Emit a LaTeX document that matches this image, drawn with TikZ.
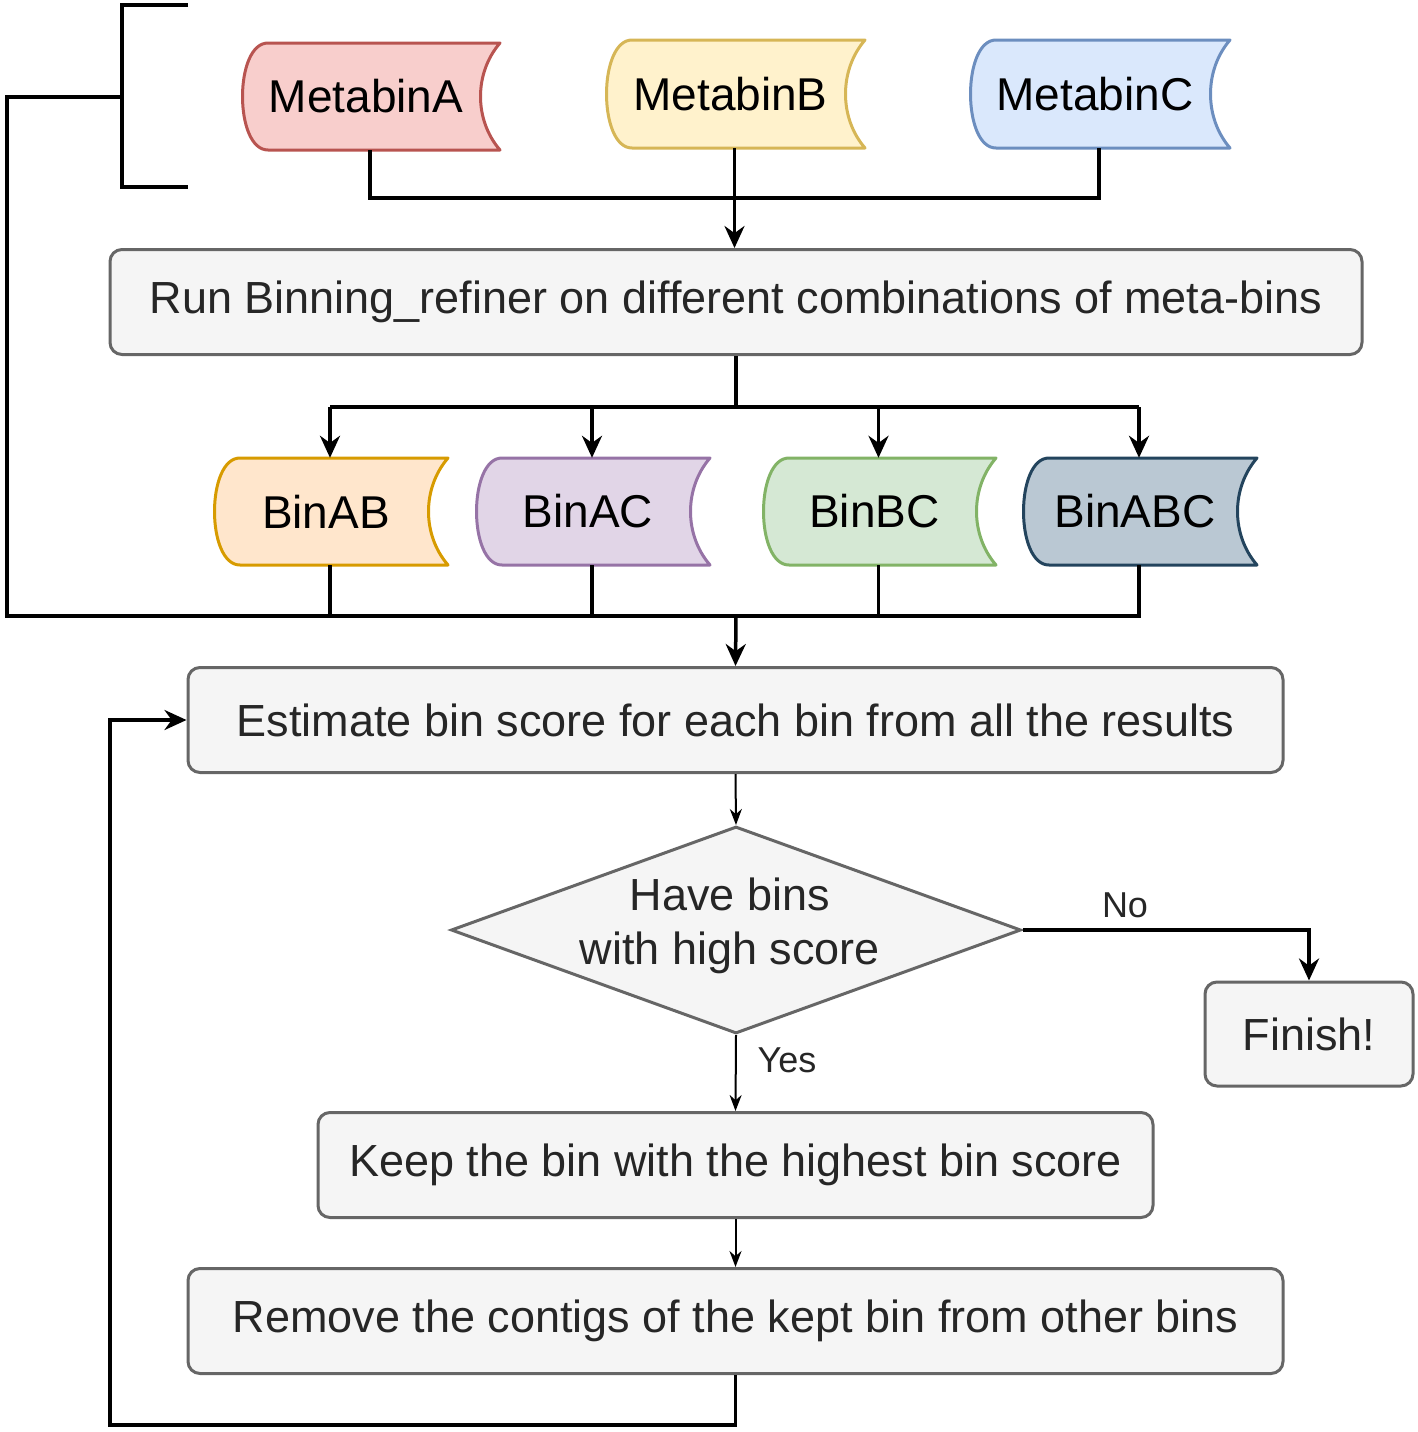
\documentclass[tikz,border=0pt]{standalone}
\usepackage{fontspec}
\setmainfont{Liberation Sans}
\usetikzlibrary{shapes.geometric,arrows.meta}
\definecolor{gf}{HTML}{F5F5F5}\definecolor{gd}{HTML}{666666}
\definecolor{af}{HTML}{F8CECC}\definecolor{ad}{HTML}{B85450}
\definecolor{bf}{HTML}{FFF2CC}\definecolor{bd}{HTML}{D6B656}
\definecolor{cf}{HTML}{DAE8FC}\definecolor{cd}{HTML}{6C8EBF}
\definecolor{abf}{HTML}{FFE6CC}\definecolor{abd}{HTML}{D79B00}
\definecolor{acf}{HTML}{E1D5E7}\definecolor{acd}{HTML}{9673A6}
\definecolor{bcf}{HTML}{D5E8D4}\definecolor{bcd}{HTML}{82B366}
\definecolor{abcf}{HTML}{BAC8D3}\definecolor{abcd}{HTML}{23445D}
\newcommand\sdshape[8]{%
 \draw[line width=3pt,draw=#7,fill=#6,line join=round]
  ({#2+28},#3) -- (#4,#3) .. controls ({#4-26},{#3+30}) and ({#4-26},{#5-30}) .. (#4,#5)
  -- ({#2+28},#5) .. controls ({#2-6},#5) and ({#2-6},#3) .. cycle;
 \node[inner sep=0,minimum width={(#4-#2)*1pt},minimum height={(#5-#3)*1pt}] (#1) at ({(#2+#4)/2},{(#3+#5)/2}) {};
 \node[font=\fontsize{46}{54}\selectfont] at ({(#2+#4)/2-4},{(#3+#5)/2}) {#8};}
\begin{document}
\begin{tikzpicture}[x=1pt,y=-1pt,
 box/.style={draw=gd,fill=gf,line width=3pt,rounded corners=12pt,inner sep=0,font=\fontsize{45}{54}\selectfont,text=black!85},
 con/.style={line width=3.5pt},
 lab/.style={font=\fontsize{36}{42}\selectfont,text=black!85},
 thin/.style={line width=2pt,-{Stealth[length=16pt,width=12pt]}},
 arr/.style={con,-{Stealth[length=22pt,width=20pt]}}]
\useasboundingbox (0,0) rectangle (1418,1432);
\sdshape{ma}{240}{43}{500}{150}{af}{ad}{MetabinA}
\sdshape{mb}{604}{40}{865}{148}{bf}{bd}{MetabinB}
\sdshape{mc}{968}{40}{1230}{148}{cf}{cd}{MetabinC}
\sdshape{ab}{212}{458}{448}{565}{abf}{abd}{BinAB}
\sdshape{ac}{474}{458}{710}{565}{acf}{acd}{BinAC}
\sdshape{bc}{761}{458}{996}{565}{bcf}{bcd}{BinBC}
\sdshape{abc}{1021}{458}{1257}{565}{abcf}{abcd}{BinABC}
\node[box,minimum width=1252pt,minimum height=105pt] (run) at (736,302) {Run Binning\_refiner on different combinations of meta-bins};
\node[box,minimum width=1095pt,minimum height=105pt] (est) at (735.5,720) {Estimate bin score for each bin from all the results};
\node[diamond,draw=gd,fill=gf,line width=3pt,aspect=2.75,inner sep=0,minimum width=570pt,minimum height=207pt,align=center,font=\fontsize{45}{54}\selectfont,text=black!85] (dec) at (736,930) {};
\node[align=center,font=\fontsize{45}{54}\selectfont,text=black!85] at (730,926) {Have bins\\with high score};
\node[box,minimum width=208pt,minimum height=104pt] (fin) at (1309,1034) {Finish!};
\node[box,minimum width=835pt,minimum height=105pt] (keep) at (735.5,1165) {Keep the bin with the highest bin score};
\node[box,minimum width=1095pt,minimum height=105pt] (rem) at (735.5,1321) {Remove the contigs of the kept bin from other bins};
% bracket
\coordinate (bt) at (188,5); \coordinate (bb) at (188,187);
\draw[con] (bt) -| (122,187) -- (bb);
\coordinate (j1) at (736,198);
\draw[con] (ma.south) |- (j1); \draw[con] (mc.south) |- (j1);
\draw[arr] (mb.south) -- (run.north -| mb.south);
\coordinate (j2) at (736,407);
\draw[con] (run.south) -- (j2);
\draw[con] (ab.north |- j2) -- (abc.north |- j2);
\foreach \n in {ab,ac,bc,abc}{\draw[arr] (\n.north |- j2) -- (\n.north);}
\coordinate (j3) at (736,616);
\draw[con] (122,97) -| (7,616) -| (abc.south);
\foreach \n in {ab,ac,bc}{\draw[con] (\n.south) -- (\n.south |- j3);}
\draw[arr] (j3) -- (est.north);
\draw[thin] (est.south) -- (dec.north);
\draw[con,-{Stealth[length=22pt,width=20pt]}] (dec.east) -| (fin.north);
\node[lab] at (1125,905) {No};
\draw[thin] (dec.south) -- (keep.north);
\node[lab] at (787,1060) {Yes};
\draw[thin] (keep.south) -- (rem.north);
\draw[arr] (rem.south) |- (110,1425) |- (est.west);
\end{tikzpicture}
\end{document}
